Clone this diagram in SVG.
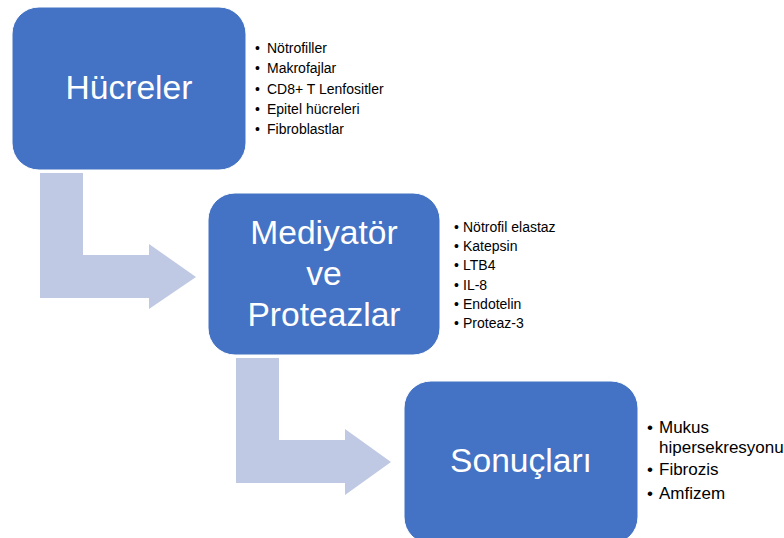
<svg xmlns="http://www.w3.org/2000/svg" width="784" height="538" viewBox="0 0 784 538">
<style>
.box{fill:#4472C4;stroke:#ffffff;stroke-width:1}
.arrow{fill:#BFC9E4}
.main{font-family:"Liberation Sans",Arial,sans-serif;font-size:33.6px;fill:#ffffff;text-anchor:middle}
.list{font-family:"Liberation Sans",Arial,sans-serif;font-size:14px;fill:#000000}
.list3{font-family:"Liberation Sans",Arial,sans-serif;font-size:17px;fill:#000000}
</style>
<rect width="784" height="538" fill="#ffffff"/>
<g id="connectors">
<polygon class="arrow" points="40,173 83,173 83,255 149,255 149,244 196,277 149,309 149,298 40,298"/>
<polygon class="arrow" points="236,358 279,358 279,440 345,440 345,429 391,462 345,495 345,483 236,483"/>
</g>
<g id="node-hucreler">
<rect class="box" x="12" y="7" width="234" height="163" rx="27"/>
<text class="main" x="129" y="99">Hücreler</text>
</g>
<g id="list-hucreler" class="list">
<text x="255" y="53">•</text><text x="267" y="53">Nötrofiller</text>
<text x="255" y="73">•</text><text x="267" y="73">Makrofajlar</text>
<text x="255" y="94">•</text><text x="267" y="94">CD8+ T Lenfositler</text>
<text x="255" y="114">•</text><text x="267" y="114">Epitel hücreleri</text>
<text x="255" y="134">•</text><text x="267" y="134">Fibroblastlar</text>
</g>
<g id="node-mediyator">
<rect class="box" x="208" y="193" width="232" height="162" rx="27"/>
<text class="main" x="324" y="244">Mediyatör</text>
<text class="main" x="324" y="285">ve</text>
<text class="main" x="324" y="326">Proteazlar</text>
</g>
<g id="list-mediyator" class="list">
<text x="454" y="232">•</text><text x="463" y="232">Nötrofil elastaz</text>
<text x="454" y="251">•</text><text x="463" y="251">Katepsin</text>
<text x="454" y="270">•</text><text x="463" y="270">LTB4</text>
<text x="454" y="290">•</text><text x="463" y="290">IL-8</text>
<text x="454" y="309">•</text><text x="463" y="309">Endotelin</text>
<text x="454" y="328">•</text><text x="463" y="328">Proteaz-3</text>
</g>
<g id="node-sonuclari">
<rect class="box" x="404" y="381" width="234" height="163" rx="27"/>
<text class="main" x="521" y="472">Sonuçları</text>
</g>
<g id="list-sonuclari" class="list3">
<text x="647" y="433">•</text><text x="659" y="433">Mukus</text>
<text x="659" y="453">hipersekresyonu</text>
<text x="647" y="475">•</text><text x="659" y="475">Fibrozis</text>
<text x="647" y="499">•</text><text x="659" y="499">Amfizem</text>
</g>
</svg>
